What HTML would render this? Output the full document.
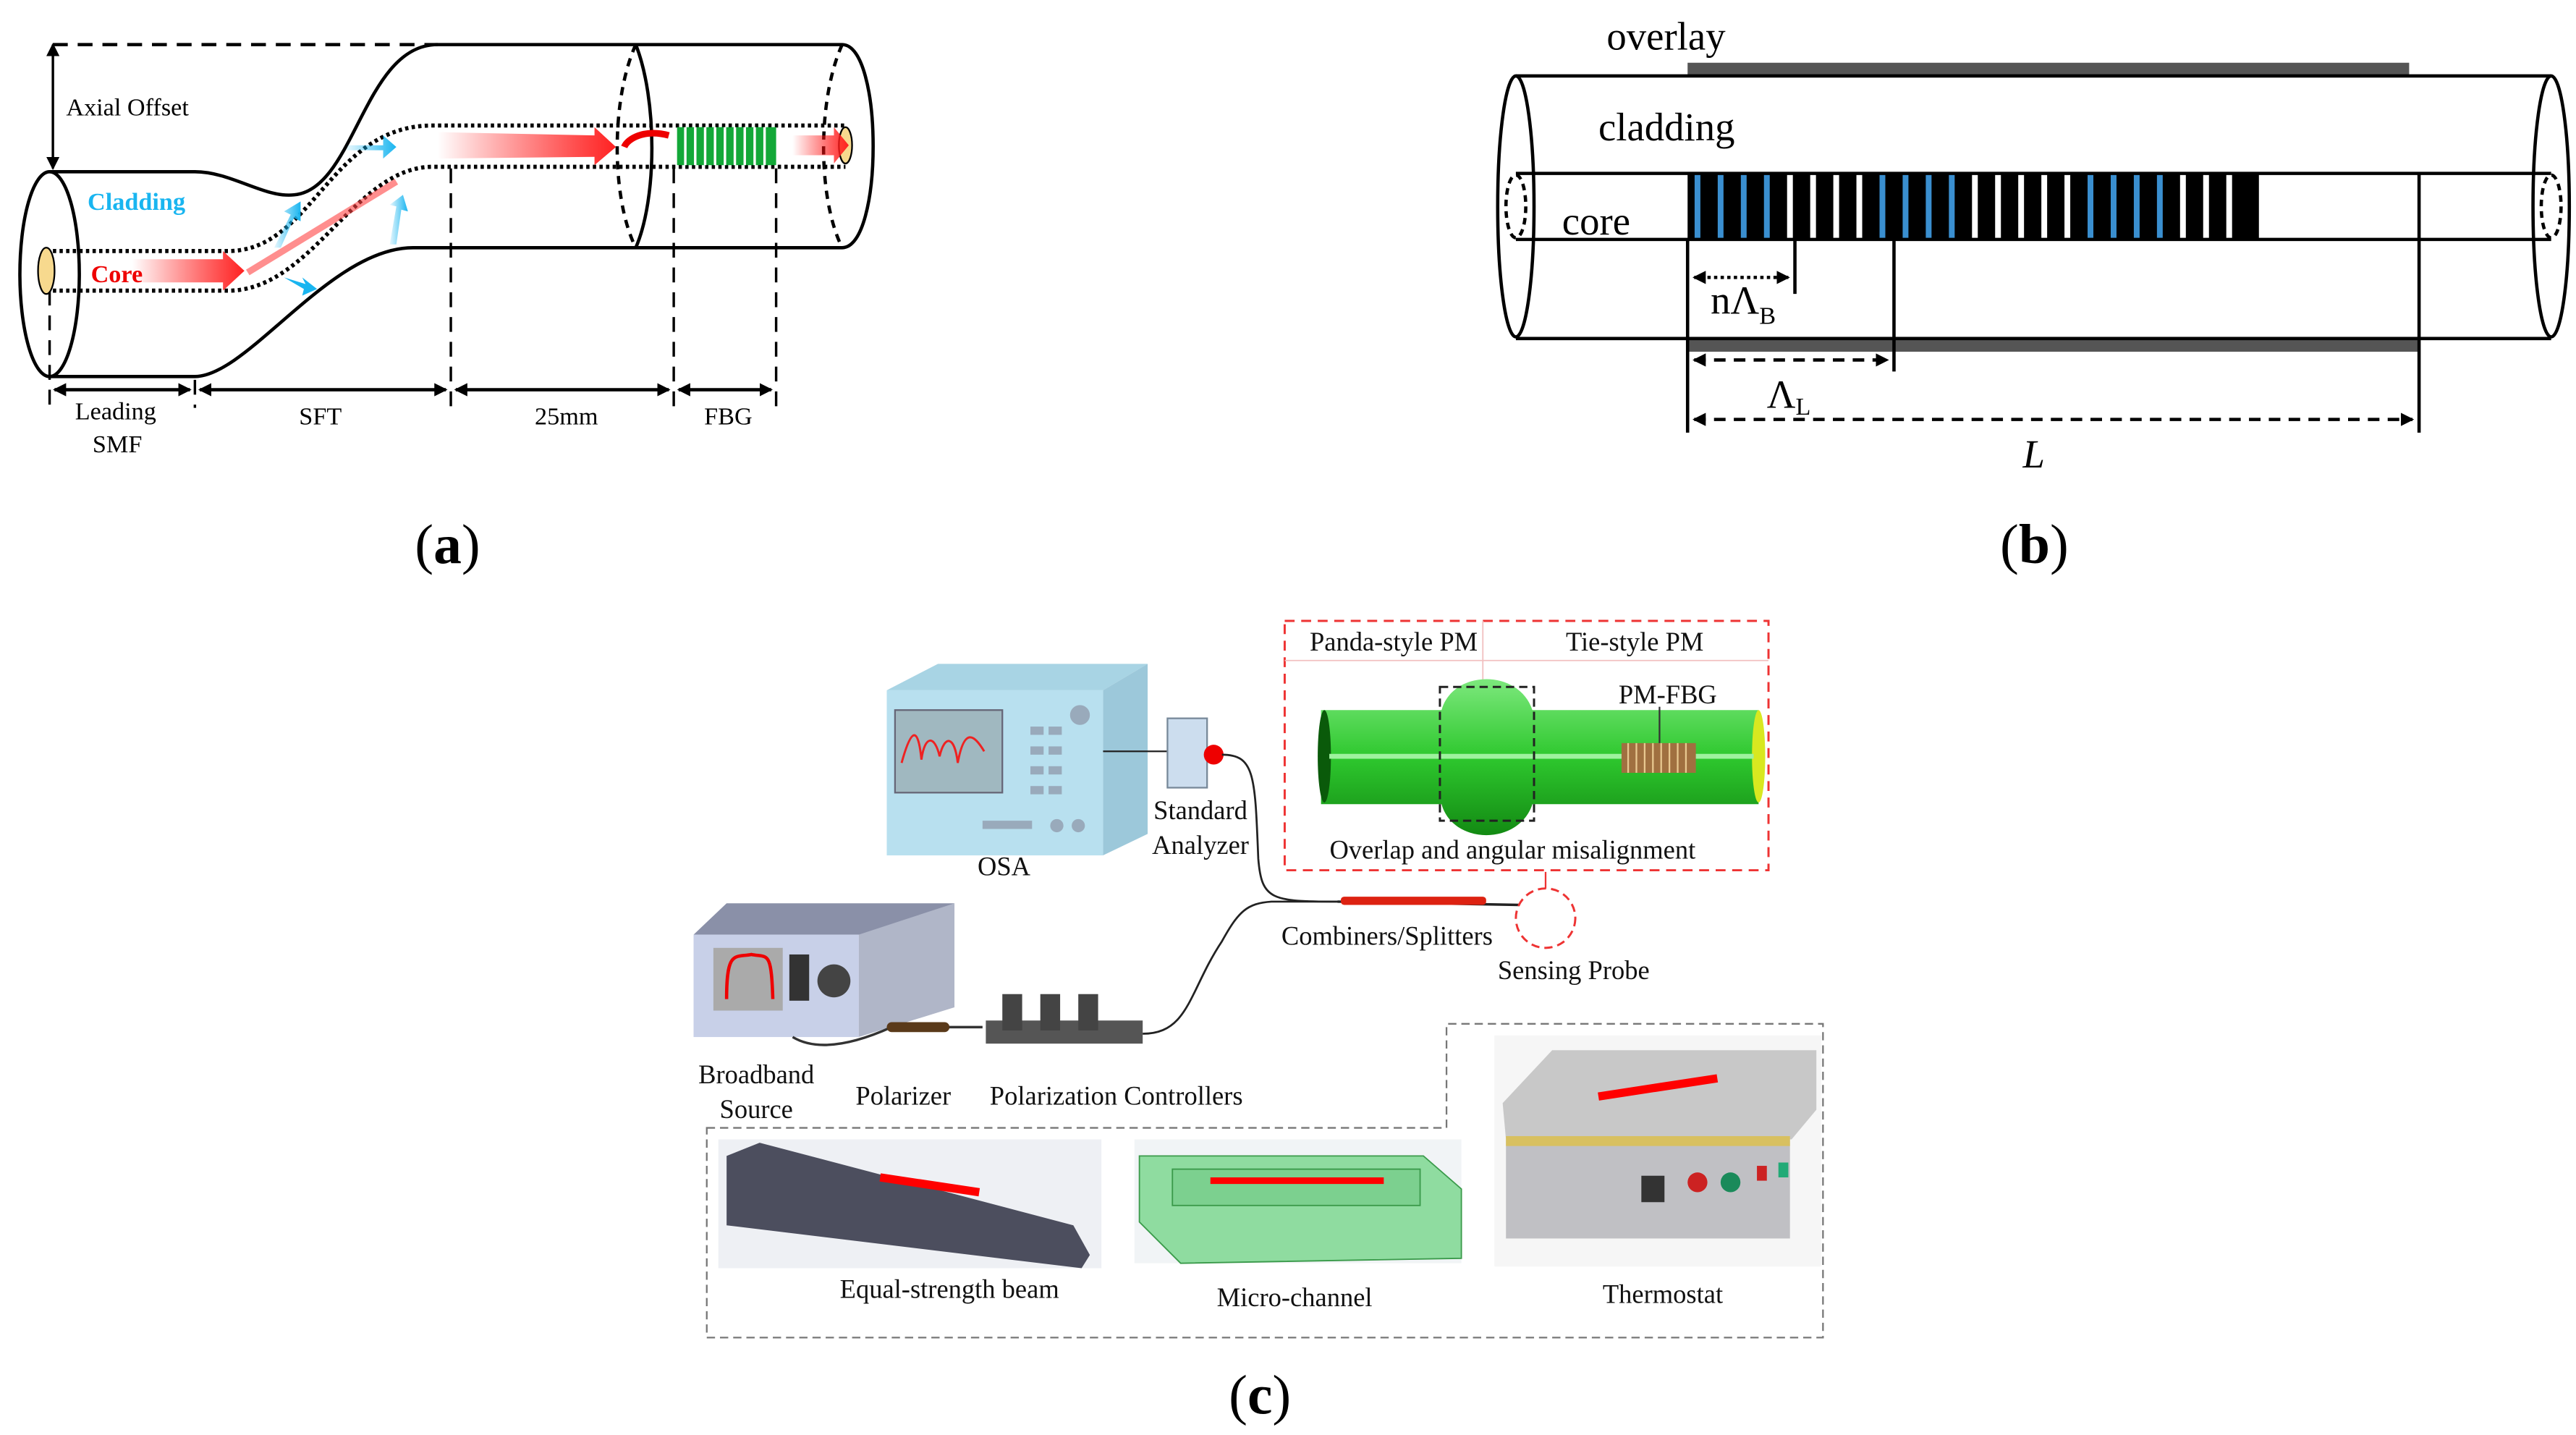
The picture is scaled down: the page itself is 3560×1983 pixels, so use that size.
<!DOCTYPE html>
<html><head><meta charset="utf-8"><style>html,body{margin:0;padding:0;background:#fff}svg{display:block}</style></head>
<body>
<svg width="3560" height="1983" viewBox="0 0 1560 869" xmlns="http://www.w3.org/2000/svg" font-family="Liberation Serif, serif">
<defs>
<linearGradient id="rg" x1="0" x2="1"><stop offset="0" stop-color="#f00" stop-opacity="0"/><stop offset="1" stop-color="#f22"/></linearGradient>
<linearGradient id="bg" x1="0" x2="1"><stop offset="0" stop-color="#19b5f0" stop-opacity="0.1"/><stop offset="1" stop-color="#19b5f0"/></linearGradient>
<linearGradient id="gf" x1="0" y1="0" x2="0" y2="1"><stop offset="0" stop-color="#7de87d"/><stop offset="0.5" stop-color="#2ec82e"/><stop offset="1" stop-color="#138a13"/></linearGradient>
<marker id="ah" markerWidth="8" markerHeight="8" refX="7" refY="4" orient="auto-start-reverse" markerUnits="userSpaceOnUse"><path d="M0,0 L8,4 L0,8 z" fill="#000"/></marker>
</defs>
<!-- ===== (a) ===== -->
<g fill="none" stroke="#000" stroke-width="2">
<line x1="32" y1="27" x2="265" y2="27" stroke-dasharray="9,6"/>
<path d="M265,27 L510,27 M510,27 C535,27 535,150 510,150 M30,104 L118,104 C140,104 160,120 178,118 C215,115 220,27 265,27 M30,228 L118,228 C150,228 200,150 250,150 L510,150"/>
<ellipse cx="30" cy="166" rx="18" ry="62"/>
<path d="M385,27 C370,60 370,120 385,150" stroke-dasharray="5,4"/>
<path d="M385,27 C398,60 398,120 385,150"/>
<path d="M510,27 C495,60 495,120 510,150" stroke-dasharray="5,4"/>
<line x1="32" y1="27" x2="32" y2="102" marker-start="url(#ah)" marker-end="url(#ah)" stroke-width="1.5"/>
<g stroke-dasharray="2,2" stroke-width="2.5">
<path d="M32,152 L140,152 C190,150 200,76 262,76 L512,76"/>
<path d="M32,176 L140,176 C190,174 215,101 262,101 L512,101"/>
</g>
<g stroke-dasharray="9,6" stroke-width="1.5">
<line x1="30" y1="176" x2="30" y2="247"/><line x1="118" y1="230" x2="118" y2="247"/><line x1="273" y1="102" x2="273" y2="247"/><line x1="408" y1="102" x2="408" y2="247"/><line x1="470" y1="102" x2="470" y2="247"/>
</g>
<g stroke-width="2"><line x1="33" y1="236" x2="115" y2="236" marker-start="url(#ah)" marker-end="url(#ah)"/><line x1="121" y1="236" x2="270" y2="236" marker-start="url(#ah)" marker-end="url(#ah)"/><line x1="276" y1="236" x2="405" y2="236" marker-start="url(#ah)" marker-end="url(#ah)"/><line x1="411" y1="236" x2="467" y2="236" marker-start="url(#ah)" marker-end="url(#ah)"/></g>
</g>
<ellipse cx="28" cy="164" rx="5" ry="14" fill="#f7d98e" stroke="#000"/>
<ellipse cx="512" cy="88" rx="4" ry="11" fill="#f7d98e" stroke="#000"/>
<g fill="#13a838"><rect x="410" y="77" width="60" height="23"/></g>
<g stroke="#fff" stroke-width="1.5"><line x1="415" y1="77" x2="415" y2="100"/><line x1="421" y1="77" x2="421" y2="100"/><line x1="427" y1="77" x2="427" y2="100"/><line x1="433" y1="77" x2="433" y2="100"/><line x1="439" y1="77" x2="439" y2="100"/><line x1="445" y1="77" x2="445" y2="100"/><line x1="451" y1="77" x2="451" y2="100"/><line x1="457" y1="77" x2="457" y2="100"/><line x1="463" y1="77" x2="463" y2="100"/></g>
<path d="M80,157 L135,157 L135,152 L148,164 L135,176 L135,171 L80,171 z" fill="url(#rg)"/>
<path d="M265,80 L360,82 L360,77 L373,89 L360,100 L360,95 L265,96 z" fill="url(#rg)"/>
<path d="M480,82 L505,82 L505,77 L514,88 L505,99 L505,94 L480,94 z" fill="url(#rg)"/>
<path d="M405,82 C390,78 380,84 378,89" stroke="#e00" stroke-width="4" fill="none"/>
<path d="M150,165 L240,110" stroke="#f44" stroke-width="4" opacity="0.6"/>
<path d="M210,88 L232,88 L232,82 L240,89 L232,96 L232,91 L210,91 z" fill="url(#bg)"/>
<path d="M166,150 L176,130 L172,128 L182,122 L182,134 L178,132 L170,150 z" fill="url(#bg)"/>
<path d="M236,148 L240,125 L236,124 L244,118 L247,128 L243,127 L240,148 z" fill="url(#bg)"/>
<path d="M172,168 L185,172 L183,168 L192,175 L183,179 L184,175 z" fill="#19b5f0"/>
<text x="40" y="70" font-size="15">Axial Offset</text>
<text x="53" y="127" font-size="15" font-weight="bold" fill="#19b5f0">Cladding</text>
<text x="55" y="171" font-size="15" font-weight="bold" fill="#e00">Core</text>
<g font-size="15" text-anchor="middle"><text x="70" y="254">Leading</text><text x="71" y="274">SMF</text><text x="194" y="257">SFT</text><text x="343" y="257">25mm</text><text x="441" y="257">FBG</text></g>
<text x="271" y="341" font-size="34" text-anchor="middle">(<tspan font-weight="bold">a</tspan>)</text>
<!-- ===== (b) ===== -->
<rect x="1022" y="38" width="437" height="8" fill="#555"/>
<rect x="1022" y="205" width="443" height="8" fill="#555"/>
<g fill="none" stroke="#000" stroke-width="2">
<line x1="918" y1="46" x2="1545" y2="46"/><line x1="918" y1="205" x2="1545" y2="205"/>
<ellipse cx="918" cy="125" rx="11" ry="79"/><ellipse cx="1545" cy="125" rx="11" ry="79"/>
<line x1="918" y1="105" x2="1545" y2="105"/><line x1="918" y1="145" x2="1545" y2="145"/>
<ellipse cx="918" cy="125" rx="6" ry="19" stroke-dasharray="4,3"/><ellipse cx="1545" cy="125" rx="6" ry="19" stroke-dasharray="4,3"/>
<line x1="1022" y1="145" x2="1022" y2="262"/><line x1="1087" y1="145" x2="1087" y2="178"/><line x1="1147" y1="145" x2="1147" y2="225"/><line x1="1465" y1="105" x2="1465" y2="262"/>
<line x1="1026" y1="168" x2="1083" y2="168" stroke-dasharray="2,2" marker-start="url(#ah)" marker-end="url(#ah)"/>
<line x1="1026" y1="218" x2="1143" y2="218" stroke-dasharray="7,5" marker-start="url(#ah)" marker-end="url(#ah)"/>
<line x1="1026" y1="254" x2="1461" y2="254" stroke-dasharray="7,5" marker-start="url(#ah)" marker-end="url(#ah)"/>
</g>
<rect x="1022" y="105" width="346" height="40" fill="#000"/>
<g stroke-width="3.5">
<g stroke="#3a8fd0"><line x1="1028" y1="106" x2="1028" y2="144"/><line x1="1042" y1="106" x2="1042" y2="144"/><line x1="1056" y1="106" x2="1056" y2="144"/><line x1="1070" y1="106" x2="1070" y2="144"/><line x1="1140" y1="106" x2="1140" y2="144"/><line x1="1154" y1="106" x2="1154" y2="144"/><line x1="1168" y1="106" x2="1168" y2="144"/><line x1="1182" y1="106" x2="1182" y2="144"/><line x1="1266" y1="106" x2="1266" y2="144"/><line x1="1280" y1="106" x2="1280" y2="144"/><line x1="1294" y1="106" x2="1294" y2="144"/><line x1="1308" y1="106" x2="1308" y2="144"/></g>
<g stroke="#fff"><line x1="1084" y1="106" x2="1084" y2="144"/><line x1="1098" y1="106" x2="1098" y2="144"/><line x1="1112" y1="106" x2="1112" y2="144"/><line x1="1126" y1="106" x2="1126" y2="144"/><line x1="1196" y1="106" x2="1196" y2="144"/><line x1="1210" y1="106" x2="1210" y2="144"/><line x1="1224" y1="106" x2="1224" y2="144"/><line x1="1238" y1="106" x2="1238" y2="144"/><line x1="1252" y1="106" x2="1252" y2="144"/><line x1="1322" y1="106" x2="1322" y2="144"/><line x1="1336" y1="106" x2="1336" y2="144"/><line x1="1350" y1="106" x2="1350" y2="144"/></g>
</g>
<g font-size="24"><text x="973" y="30">overlay</text><text x="968" y="85">cladding</text><text x="946" y="142">core</text><text x="1036" y="190">nΛ<tspan font-size="15" dy="6">B</tspan></text><text x="1070" y="247">Λ<tspan font-size="15" dy="4">L</tspan></text><text x="1225" y="283" font-style="italic">L</text></g>
<text x="1232" y="341" font-size="34" text-anchor="middle">(<tspan font-weight="bold">b</tspan>)</text>
<!-- ===== (c) ===== -->
<rect x="778" y="376" width="293" height="151" fill="none" stroke="#e33" stroke-width="1.3" stroke-dasharray="6,4"/>
<line x1="778" y1="400" x2="1071" y2="400" stroke="#f2c0c0" stroke-width="0.8"/>
<line x1="898" y1="376" x2="898" y2="455" stroke="#f2c0c0" stroke-width="0.8"/>
<path d="M800,430 L873,430 C880,405 920,405 928,430 L1065,430 L1065,487 L928,487 C920,512 880,512 873,487 L800,487 z" fill="url(#gf)"/>
<ellipse cx="802" cy="458" rx="4" ry="28" fill="#0a5a0a"/>
<ellipse cx="1065" cy="458" rx="4" ry="28" fill="#d8e820"/>
<line x1="805" y1="458" x2="1062" y2="458" stroke="#9ef29e" stroke-width="3"/>
<rect x="872" y="416" width="57" height="81" fill="none" stroke="#222" stroke-width="1.3" stroke-dasharray="5,3"/>
<rect x="982" y="450" width="45" height="18" fill="#a07040"/>
<g stroke="#e8c890" stroke-width="1"><line x1="986" y1="450" x2="986" y2="468"/><line x1="991" y1="450" x2="991" y2="468"/><line x1="996" y1="450" x2="996" y2="468"/><line x1="1001" y1="450" x2="1001" y2="468"/><line x1="1006" y1="450" x2="1006" y2="468"/><line x1="1011" y1="450" x2="1011" y2="468"/><line x1="1016" y1="450" x2="1016" y2="468"/><line x1="1021" y1="450" x2="1021" y2="468"/></g>
<line x1="1005" y1="428" x2="1005" y2="450" stroke="#333"/>
<!-- OSA -->
<path d="M537,418 L568,402 L695,402 L668,418 z" fill="#a8d4e4"/>
<path d="M668,418 L695,402 L695,505 L668,518 z" fill="#9cc8da"/>
<rect x="537" y="418" width="131" height="100" fill="#b8e0ef"/>
<rect x="542" y="430" width="65" height="50" fill="#a0b8c0" stroke="#667" stroke-width="1"/>
<path d="M546,462 C552,440 556,440 558,460 C560,445 566,445 569,458 C572,445 578,445 580,462 C584,440 590,445 596,455" fill="none" stroke="#e22" stroke-width="1.3"/>
<g fill="#9ab"><rect x="624" y="440" width="8" height="5"/><rect x="635" y="440" width="8" height="5"/><rect x="624" y="452" width="8" height="5"/><rect x="635" y="452" width="8" height="5"/><rect x="624" y="464" width="8" height="5"/><rect x="635" y="464" width="8" height="5"/><rect x="624" y="476" width="8" height="5"/><rect x="635" y="476" width="8" height="5"/><rect x="595" y="497" width="30" height="5"/><circle cx="640" cy="500" r="4"/><circle cx="653" cy="500" r="4"/><circle cx="654" cy="433" r="6"/></g>
<line x1="668" y1="455" x2="707" y2="455" stroke="#222"/>
<rect x="707" y="435" width="24" height="42" fill="#cde" stroke="#789"/>
<circle cx="735" cy="457" r="6" fill="#e00"/>
<path d="M740,457 C760,457 760,470 762,520 C764,545 770,546 810,546" fill="none" stroke="#222" stroke-width="1.2"/>
<path d="M810,546 L920,548" stroke="#222" stroke-width="1.5"/>
<rect x="812" y="543" width="88" height="5" rx="2" fill="#d21"/>
<circle cx="936" cy="556" r="18" fill="none" stroke="#e33" stroke-width="1.3" stroke-dasharray="5,3"/>
<line x1="936" y1="528" x2="936" y2="538" stroke="#e33"/>
<!-- Broadband source -->
<path d="M420,566 L440,547 L578,547 L560,566 z" fill="#8a90a8"/>
<path d="M520,566 L578,547 L578,610 L520,628 z" fill="#b0b6c8"/>
<rect x="420" y="566" width="100" height="62" fill="#c8d0e8"/>
<rect x="432" y="574" width="42" height="38" fill="#aaa"/>
<path d="M440,605 C440,575 445,580 455,578 C465,580 467,575 468,605" fill="none" stroke="#e00" stroke-width="2"/>
<rect x="478" y="578" width="12" height="28" fill="#333"/><circle cx="505" cy="594" r="10" fill="#444"/>
<path d="M480,628 Q500,640 540,622 L595,622" stroke="#333" stroke-width="1.5" fill="none"/>
<rect x="537" y="619" width="38" height="6" rx="3" fill="#5a3a1a"/>
<rect x="597" y="618" width="95" height="14" fill="#555"/>
<rect x="607" y="602" width="12" height="22" fill="#444"/><rect x="630" y="602" width="12" height="22" fill="#444"/><rect x="653" y="602" width="12" height="22" fill="#444"/>
<path d="M692,626 C720,626 720,600 740,570 C750,552 755,547 770,546 L812,546" fill="none" stroke="#222" stroke-width="1.2"/>
<!-- gray dashed box -->
<path d="M428,683 L876,683 L876,620 L1104,620 L1104,810 L428,810 z" fill="none" stroke="#777" stroke-width="1" stroke-dasharray="5,3"/>
<rect x="435" y="690" width="232" height="78" fill="#eef0f4"/>
<path d="M440,700 L460,692 L650,742 L660,760 L655,768 L440,742 z" fill="#4c4e5e"/>
<line x1="533" y1="713" x2="593" y2="722" stroke="#f00" stroke-width="5"/>
<rect x="687" y="690" width="198" height="75" fill="#f1f4f6"/>
<path d="M690,700 L862,700 L885,720 L885,762 L715,765 L690,740 z" fill="#8fdca0" stroke="#3a9a4a" stroke-width="0.8"/>
<rect x="710" y="708" width="150" height="22" fill="#7cd08f" stroke="#3a9a4a" stroke-width="0.8"/>
<line x1="733" y1="715" x2="838" y2="715" stroke="#f00" stroke-width="4"/>
<rect x="905" y="627" width="198" height="140" fill="#f6f6f6"/>
<path d="M910,668 L940,636 L1100,636 L1100,672 L1085,690 L912,690 z" fill="#c8c8c8"/>
<rect x="912" y="690" width="172" height="60" fill="#c0c0c4"/>
<rect x="912" y="688" width="172" height="6" fill="#d8c060"/>
<line x1="968" y1="664" x2="1040" y2="653" stroke="#f00" stroke-width="5"/>
<rect x="994" y="712" width="14" height="16" fill="#333"/><circle cx="1028" cy="716" r="6" fill="#c22"/><circle cx="1048" cy="716" r="6" fill="#1a8a5a"/><rect x="1064" y="706" width="6" height="9" fill="#c22"/><rect x="1077" y="704" width="6" height="9" fill="#2a7"/>
<g font-size="16" font-family="Liberation Sans Narrow, Liberation Serif, serif" text-anchor="middle" fill="#111">
<text x="844" y="394">Panda-style PM</text><text x="990" y="394">Tie-style PM</text><text x="1010" y="426">PM-FBG</text><text x="916" y="520">Overlap and angular misalignment</text>
<text x="727" y="496">Standard</text><text x="727" y="517">Analyzer</text><text x="608" y="530">OSA</text>
<text x="840" y="572">Combiners/Splitters</text><text x="953" y="593">Sensing Probe</text>
<text x="458" y="656">Broadband</text><text x="458" y="677">Source</text><text x="547" y="669">Polarizer</text><text x="676" y="669">Polarization Controllers</text>
<text x="575" y="786">Equal-strength beam</text><text x="784" y="791">Micro-channel</text><text x="1007" y="789">Thermostat</text>
</g>
<text x="763" y="856" font-size="34" text-anchor="middle">(<tspan font-weight="bold">c</tspan>)</text>
</svg>
</body></html>
